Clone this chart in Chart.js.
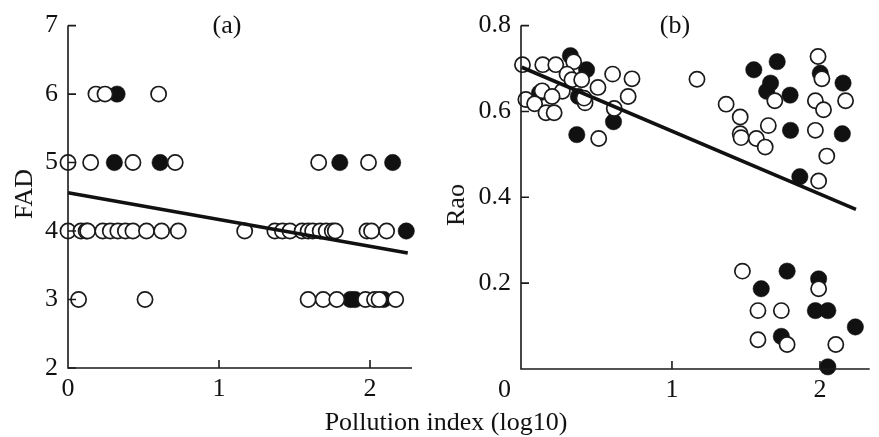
<!DOCTYPE html>
<html><head><meta charset="utf-8">
<script src="https://cdn.jsdelivr.net/npm/chart.js@4.4.1/dist/chart.umd.min.js"></script>
<style>
html,body{margin:0;padding:0;background:#fff;}
#wrap{position:relative;width:879px;height:437px;overflow:hidden;font-family:'Liberation Serif','Times New Roman',serif;color:#111;}
canvas{position:absolute;top:0;}
#ca{left:0;} #cb{left:440px;}
.t{position:absolute;font-size:26px;line-height:1;white-space:nowrap;transform:translate(-50%,-50%);}
.r{transform:translate(-50%,-50%) rotate(-90deg);}
</style></head><body>
<div id="wrap">
<canvas id="ca" width="440" height="437"></canvas>
<canvas id="cb" width="439" height="437"></canvas>
<div class="t" style="left:227px;top:25px">(a)</div>
<div class="t" style="left:675px;top:25px">(b)</div>
<div class="t r" style="left:24px;top:194px">FAD</div>
<div class="t r" style="left:456px;top:205px">Rao</div>
<div class="t" style="left:446px;top:422px">Pollution index (log10)</div>
</div>
<script>
// ---- data ----
const xTicks = [0, 1, 2];
const aYTicks = [2, 3, 4, 5, 6, 7];
const bYTicks = [0.2, 0.4, 0.6, 0.8];

// Panel (a): FAD
const aOpenX = [0.185, 0.245, 0.60,
  0.0, 0.15, 0.43, 0.71, 1.66, 1.99,
  0.0, 0.086, 0.12, 0.13, 0.23, 0.28, 0.33, 0.38, 0.43, 0.52, 0.62, 0.73, 1.17, 1.37, 1.42, 1.47, 1.55, 1.59, 1.62, 1.67, 1.71, 1.75, 1.77, 1.98, 2.01, 2.11,
  0.07, 0.51, 1.59, 1.69, 1.78, 1.97, 2.03, 2.06, 2.17];
const aOpenY = [6, 6, 6,
  5, 5, 5, 5, 5, 5,
  4, 4, 4, 4, 4, 4, 4, 4, 4, 4, 4, 4, 4, 4, 4, 4, 4, 4, 4, 4, 4, 4, 4, 4, 4, 4,
  3, 3, 3, 3, 3, 3, 3, 3, 3];
const aFillX = [0.325, 0.307, 0.61, 1.80, 2.15, 2.24, 1.87, 1.90, 2.09];
const aFillY = [6, 5, 5, 5, 5, 4, 3, 3, 3];
const aLineX = [0, 2.25];
const aLineY = [4.56, 3.68];

// Panel (b): Rao
const bOpenX = [-0.01, 0.127, 0.215, 0.336, 0.291, 0.324, 0.390, 0.599, 0.730, 0.50, 0.259, 0.123, 0.013, 0.072, 0.149, 0.204, 0.413, 0.704, 0.61, 0.505, 0.406, 0.19,
  1.169, 1.987, 2.013, 1.695, 1.969, 2.024, 2.173, 1.366, 1.461, 1.651, 1.461, 1.467, 1.570, 1.630, 1.969, 2.046, 1.991,
  1.476, 1.991, 1.581, 1.739, 1.581, 1.778, 2.107];
const bOpenY = [0.709, 0.709, 0.709, 0.716, 0.687, 0.674, 0.674, 0.687, 0.676, 0.656, 0.647, 0.648, 0.628, 0.618, 0.597, 0.597, 0.620, 0.635, 0.607, 0.537, 0.631, 0.635,
  0.675, 0.728, 0.676, 0.625, 0.625, 0.604, 0.625, 0.617, 0.587, 0.567, 0.548, 0.539, 0.537, 0.517, 0.556, 0.496, 0.438,
  0.228, 0.187, 0.136, 0.136, 0.068, 0.057, 0.057];
const bFillX = [0.314, 0.423, 0.105, 0.368, 0.605, 0.357,
  1.553, 1.711, 2.002, 2.156, 1.666, 1.640, 1.798, 1.801, 2.151, 1.864,
  1.778, 1.991, 1.603, 1.969, 2.053, 2.239, 1.739, 2.053];
const bFillY = [0.730, 0.697, 0.643, 0.635, 0.576, 0.546,
  0.697, 0.716, 0.689, 0.666, 0.666, 0.647, 0.638, 0.556, 0.548, 0.448,
  0.228, 0.210, 0.187, 0.136, 0.136, 0.098, 0.076, 0.005];
const bLineX = [-0.015, 2.243];
const bLineY = [0.703, 0.372];

// ---- drawing ----
const FONT = {family: "'Liberation Serif','Times New Roman',serif", size: 26};
function pts(xs, ys) { return xs.map((x, i) => ({x: x, y: ys[i]})); }

const axisPlugin = {
  id: 'axes',
  afterDatasetsDraw(chart, args, opts) {
    const ctx = chart.ctx, a = chart.chartArea, x = chart.scales.x, y = chart.scales.y;
    ctx.save();
    ctx.strokeStyle = '#1a1a1a';
    ctx.lineWidth = 1.6;
    ctx.beginPath();
    ctx.moveTo(a.left, a.top); ctx.lineTo(a.left, a.bottom); ctx.lineTo(a.right, a.bottom);
    ctx.stroke();
    ctx.beginPath();
    opts.yTicks.forEach(v => { const py = y.getPixelForValue(v); ctx.moveTo(a.left, py); ctx.lineTo(a.left + 8, py); });
    opts.xTicks.forEach(v => { if (v === 0) return; const px = x.getPixelForValue(v); ctx.moveTo(px, a.bottom); ctx.lineTo(px, a.bottom - 8); });
    ctx.stroke();
    ctx.restore();
  }
};

function makeChart(id, c) {
  return new Chart(document.getElementById(id), {
    type: 'scatter',
    data: {datasets: [
      {data: pts(c.lineX, c.lineY), showLine: true, borderColor: '#111', borderWidth: 3.6, pointRadius: 0, order: 0, clip: false},
      {data: pts(c.openX, c.openY), pointRadius: 7.6, pointBackgroundColor: '#fff', pointBorderColor: '#1a1a1a', pointBorderWidth: 1.7, order: 1, clip: false},
      {data: pts(c.fillX, c.fillY), pointRadius: 8.2, pointBackgroundColor: '#111', pointBorderColor: '#111', pointBorderWidth: 0.5, order: 2, clip: false}
    ]},
    options: {
      responsive: false, animation: false, devicePixelRatio: 1,
      events: [],
      layout: {padding: {left: 0, top: 24, right: c.padRight, bottom: 0}},
      plugins: {legend: {display: false}, tooltip: {enabled: false}, axes: {xTicks: xTicks, yTicks: c.yTicks}},
      scales: {
        x: {type: 'linear', min: c.xMin, max: c.xMax,
          grid: {display: false, drawTicks: false}, border: {display: false},
          afterBuildTicks: s => { s.ticks = xTicks.map(v => ({value: v})); },
          afterFit: s => { s.height = c.xHeight; },
          ticks: {autoSkip: false, maxRotation: 0, minRotation: 0, padding: 6, color: '#111', font: FONT, callback: c.xLabel}
        },
        y: {type: 'linear', min: c.yMin, max: c.yMax,
          grid: {display: false, drawTicks: false}, border: {display: false},
          afterBuildTicks: s => { s.ticks = c.yTicks.map(v => ({value: v})); },
          afterFit: s => { s.width = c.yWidth; },
          ticks: {autoSkip: false, padding: 10, color: '#111', font: FONT, callback: c.yLabel}
        }
      }
    },
    plugins: [axisPlugin]
  });
}

makeChart('ca', {
  openX: aOpenX, openY: aOpenY, fillX: aFillX, fillY: aFillY, lineX: aLineX, lineY: aLineY,
  yTicks: aYTicks, xMin: 0, xMax: 2.278, yMin: 2, yMax: 7,
  padRight: 28, xHeight: 69, yWidth: 68,
  xLabel: v => String(v), yLabel: v => String(v)
});
makeChart('cb', {
  openX: bOpenX, openY: bOpenY, fillX: bFillX, fillY: bFillY, lineX: bLineX, lineY: bLineY,
  yTicks: bYTicks, xMin: -0.02, xMax: 2.336, yMin: 0, yMax: 0.8,
  padRight: 0, xHeight: 68, yWidth: 81,
  xLabel: v => v === 0 ? '0' + '\u00a0\u00a0\u00a0\u00a0\u00a0\u00a0' : String(v),
  yLabel: v => v.toFixed(1)
});
</script>
</body></html>
